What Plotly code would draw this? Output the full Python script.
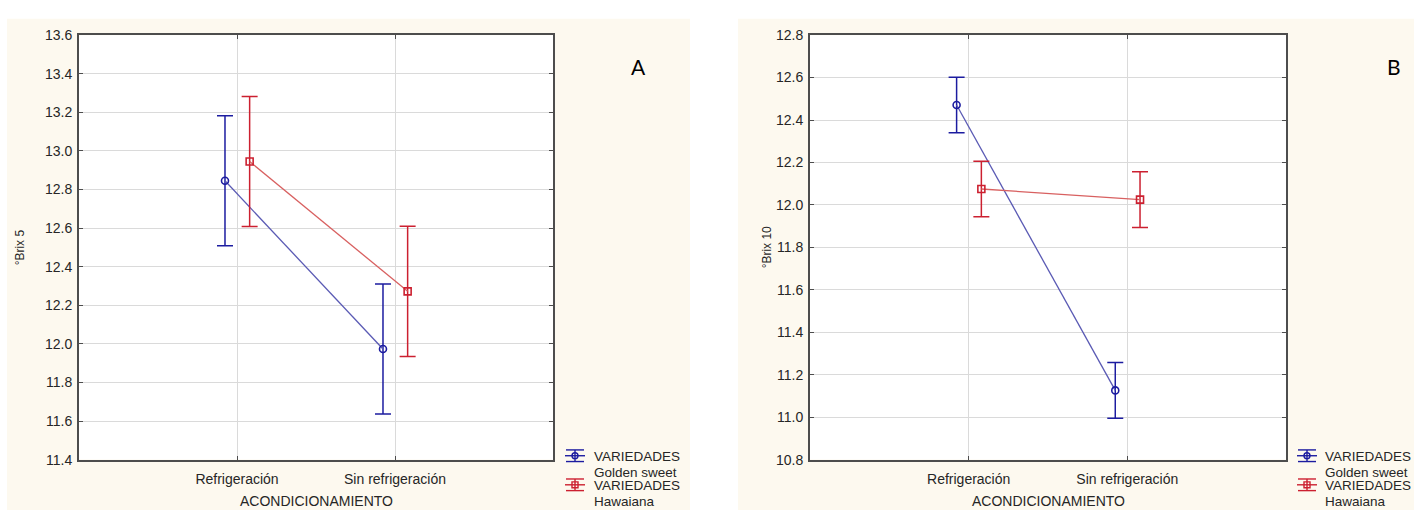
import plotly.graph_objects as go

# ---- data -------------------------------------------------------------
categories = ["Refrigeración", "Sin refrigeración"]
varieties = ["Golden sweet", "Hawaiana"]

brix5_mean = {"Golden sweet": [12.845, 11.973], "Hawaiana": [12.945, 12.272]}
brix5_err = {"Golden sweet": [0.337, 0.337], "Hawaiana": [0.337, 0.337]}

brix10_mean = {"Golden sweet": [12.471, 11.126], "Hawaiana": [12.075, 12.025]}
brix10_err = {"Golden sweet": [0.131, 0.131], "Hawaiana": [0.131, 0.131]}

y5_ticks = [11.4, 11.6, 11.8, 12.0, 12.2, 12.4, 12.6, 12.8, 13.0, 13.2, 13.4, 13.6]
y10_ticks = [10.8, 11.0, 11.2, 11.4, 11.6, 11.8, 12.0, 12.2, 12.4, 12.6, 12.8]

# ---- styling ----------------------------------------------------------
W, H = 1414, 518
FONT = "Liberation Sans, Arial, sans-serif"
BEIGE = "#fdf9ef"
TXT = "#262626"
style = {
    "Golden sweet": dict(mark="#1c1ca0", line="#5a5ab4", symbol="circle-open", dodge=-0.076),
    "Hawaiana": dict(mark="#cc2030", line="#d86060", symbol="square-open", dodge=0.08),
}

# plot-area pixel boxes (left, right) and shared vertical extent
PLOT_X = [(79, 553), (810, 1286)]
PLOT_TOP, PLOT_BOTTOM = 28, 466


def px(x):
    return x / W


def py(y):
    return 1 - y / H


fig = go.Figure()

panels = [
    dict(xa="x", ya="y", means=brix5_mean, errs=brix5_err, ticks=y5_ticks),
    dict(xa="x2", ya="y2", means=brix10_mean, errs=brix10_err, ticks=y10_ticks),
]

for p in panels:
    for v in varieties:
        s = style[v]
        xs = [i + s["dodge"] for i in range(len(categories))]
        fig.add_trace(go.Scatter(
            x=xs, y=p["means"][v], xaxis=p["xa"], yaxis=p["ya"],
            mode="lines+markers", name=v, showlegend=False,
            line=dict(color=s["line"], width=1.3),
            marker=dict(symbol=s["symbol"], size=7, color=s["mark"],
                        line=dict(color=s["mark"], width=1.6)),
            error_y=dict(type="data", array=p["errs"][v], visible=True,
                         color=s["mark"], thickness=1.5, width=8),
        ))

axis_common = dict(
    showline=True, mirror="ticks", linecolor="#4d4d4d", linewidth=2,
    ticks="inside", ticklen=4, tickcolor="#4d4d4d",
    showgrid=True, gridcolor="#dadada", gridwidth=1, zeroline=False,
    tickfont=dict(family=FONT, size=14, color=TXT),
)

ydom = [py(PLOT_BOTTOM), py(PLOT_TOP)]
fig.update_layout(
    width=W, height=H, margin=dict(l=0, r=0, t=0, b=0),
    paper_bgcolor="white", plot_bgcolor="white", showlegend=False,
    xaxis=dict(domain=[px(PLOT_X[0][0]), px(PLOT_X[0][1])], range=[-1, 2], tickvals=[0, 1],
               ticktext=categories, anchor="y", ticklabelstandoff=6, **axis_common),
    yaxis=dict(domain=ydom, range=[y5_ticks[0], y5_ticks[-1]], tickvals=y5_ticks,
               ticktext=[f"{t:.1f}" for t in y5_ticks], anchor="x",
               ticklabelstandoff=2, **axis_common),
    xaxis2=dict(domain=[px(PLOT_X[1][0]), px(PLOT_X[1][1])], range=[-1, 2], tickvals=[0, 1],
                ticktext=categories, anchor="y2", ticklabelstandoff=6, **axis_common),
    yaxis2=dict(domain=ydom, range=[y10_ticks[0], y10_ticks[-1]], tickvals=y10_ticks,
                ticktext=[f"{t:.1f}" for t in y10_ticks], anchor="x2",
                ticklabelstandoff=2, **axis_common),
)

shapes = []
annotations = []

# beige panel backgrounds, with white plot areas on top of them
for x0, x1 in [(7, 690), (738, W)]:
    shapes.append(dict(type="rect", xref="paper", yref="paper", layer="below",
                       x0=px(x0), x1=px(x1), y0=py(H), y1=py(11),
                       fillcolor=BEIGE, line=dict(width=0)))
for x0, x1 in PLOT_X:
    shapes.append(dict(type="rect", xref="paper", yref="paper", layer="below",
                       x0=px(x0), x1=px(x1), y0=py(PLOT_BOTTOM), y1=py(PLOT_TOP),
                       fillcolor="white", line=dict(width=0)))


def label(text, x, y, size=14, xanchor="center", angle=0, family=FONT, color=TXT):
    annotations.append(dict(text=text, xref="paper", yref="paper", x=px(x), y=py(y),
                            xanchor=xanchor, yanchor="middle", textangle=angle,
                            showarrow=False, font=dict(family=family, size=size, color=color)))


# axis titles and panel letters
for cx, ylab_x, ylab, letter_x, letter in [
    (316, 20, "°Brix 5", 638, "A"),
    (1048, 767, "°Brix 10", 1394, "B"),
]:
    label("ACONDICIONAMIENTO", cx, 509)
    label(ylab, ylab_x, 247, size=12, angle=-90)
    label(letter, letter_x, 60, size=21, family="Lato, Open Sans, sans-serif", color="black")

# legend blocks: error-bar glyph + two-line label
for lx, tx in [(575, 592), (1307, 1323)]:
    for v, ly in [("Golden sweet", 462), ("Hawaiana", 492)]:
        c = style[v]["mark"]
        ln = dict(color=c, width=1.4)
        shapes.append(dict(type="line", xref="paper", yref="paper",
                           x0=px(lx - 10), x1=px(lx + 10), y0=py(ly), y1=py(ly), line=ln))
        for dy in (-6, 6):
            shapes.append(dict(type="line", xref="paper", yref="paper",
                               x0=px(lx - 9), x1=px(lx + 9), y0=py(ly + dy), y1=py(ly + dy),
                               line=ln))
        shapes.append(dict(type="line", xref="paper", yref="paper",
                           x0=px(lx), x1=px(lx), y0=py(ly - 6), y1=py(ly + 6), line=ln))
        shapes.append(dict(type="circle" if v == "Golden sweet" else "rect",
                           xref="paper", yref="paper",
                           x0=px(lx - 3), x1=px(lx + 3), y0=py(ly - 3), y1=py(ly + 3),
                           line=dict(color=c, width=1.4), fillcolor="rgba(0,0,0,0)"))
        label("VARIEDADES", tx, ly + 1, size=13.5, xanchor="left")
        label(v, tx, ly + 17, size=13.5, xanchor="left")

fig.update_layout(shapes=shapes, annotations=annotations)
fig.write_html("out.html")
